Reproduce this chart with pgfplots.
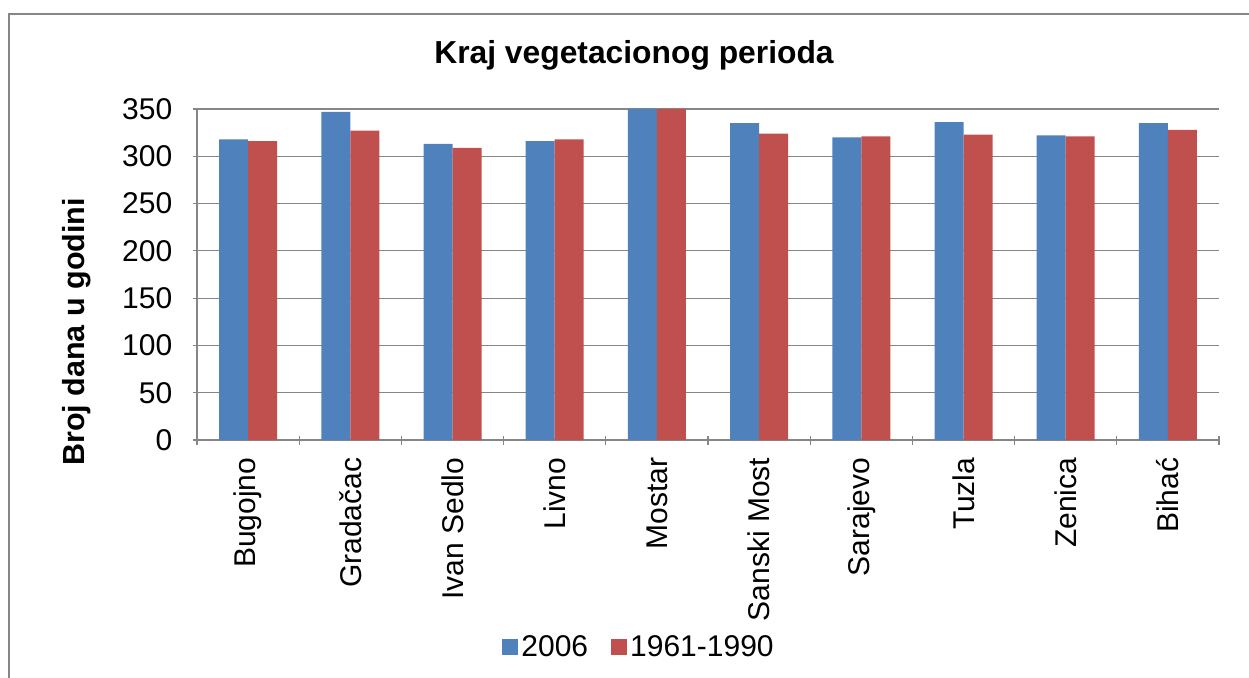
\documentclass[border=0pt]{standalone}
\usepackage{pgfplots}
\pgfplotsset{compat=1.18}
\usepackage{fontspec}
\setmainfont{Liberation Sans}
\definecolor{cblue}{HTML}{4F81BD}
\definecolor{cred}{HTML}{C0504D}
\definecolor{axgray}{HTML}{868686}
\begin{document}
\begin{tikzpicture}[x=1pt,y=1pt]
\path[use as bounding box] (0,0) rectangle (1249,677);
\draw[axgray, line width=1.5pt] (9,-5) -- (9,663) -- (1254,663);
\node[anchor=base, font=\fontsize{31.8}{32}\selectfont\bfseries] at (634,613) {Kraj vegetacionog perioda};
\node[anchor=base, rotate=90, font=\fontsize{30.5}{31}\selectfont\bfseries] at (84,345) {Broj dana u godini};
\begin{axis}[
  at={(197pt,237pt)}, anchor=south west,
  scale only axis, width=1022pt, height=331pt,
  ybar=0pt, bar width=29pt,
  xmin=-0.5, xmax=9.5, ymin=0, ymax=350,
  ytick={0,50,...,350},
  xtick={0,...,9},
  xticklabels={Bugojno,Gradačac,Ivan Sedlo,Livno,Mostar,Sanski Most,Sarajevo,Tuzla,Zenica,Bihać},
  minor xtick={-0.5,0.5,...,9.5},
  major x tick style={draw=none},
  tick align=outside,
  major tick length=9pt, minor tick length=9pt,
  axis x line=bottom, axis y line=left,
  axis line style={-, draw=axgray, line width=1.2pt},
  every tick/.style={draw=axgray, line width=1.2pt},
  ymajorgrids, grid style={draw=axgray, line width=1.2pt},
  tick label style={font=\fontsize{30}{30}\selectfont},
  /pgf/number format/assume math mode=true,
  yticklabel style={anchor=east, inner sep=0pt, xshift=-20pt},
  xticklabel style={yshift=-13pt, rotate=90, anchor=east, inner sep=0pt},
  legend style={at={(axis description cs:0.433,-0.626)}, anchor=center, draw=none, fill=none,
    legend columns=2, font=\fontsize{30}{30}\selectfont,
    nodes={inner xsep=3.5pt, inner ysep=0pt},
    /tikz/every even column/.append style={column sep=19pt}},
  legend image code/.code={\fill[#1, draw=none] (0pt,-8pt) rectangle (16pt,8pt);},
]
\addplot[fill=cblue, draw=none] coordinates {(0,318) (1,347) (2,313) (3,316) (4,350) (5,335) (6,320) (7,336) (8,322) (9,335)};
\addplot[fill=cred, draw=none] coordinates {(0,316) (1,327) (2,309) (3,318) (4,350) (5,324) (6,321) (7,323) (8,321) (9,328)};
\legend{2006,1961-1990}
\end{axis}
\end{tikzpicture}
\end{document}
